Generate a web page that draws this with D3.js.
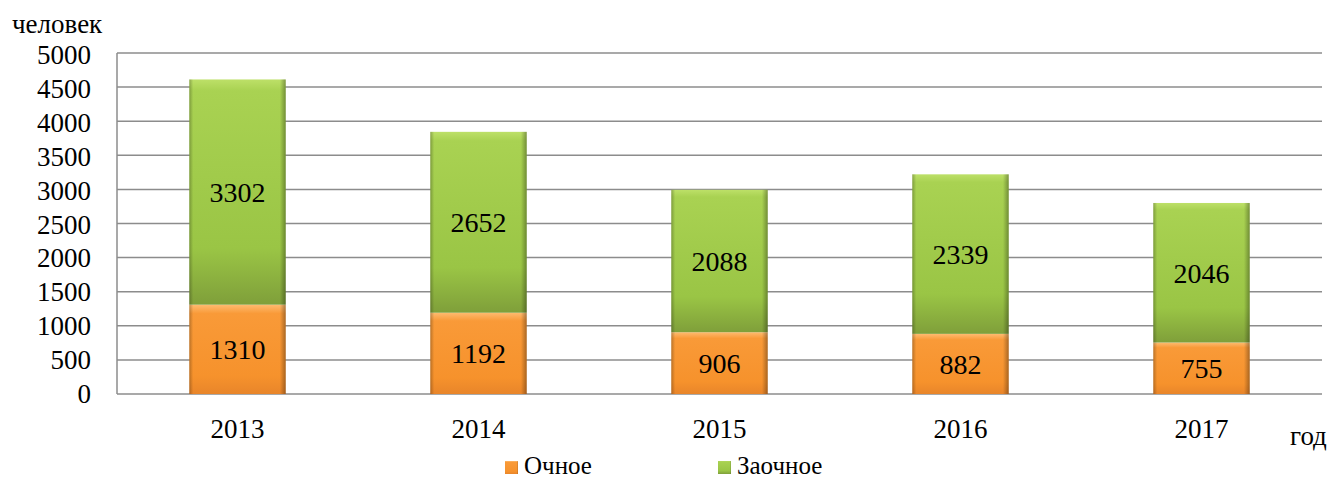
<!DOCTYPE html>
<html>
<head>
<meta charset="utf-8">
<script src="https://cdn.jsdelivr.net/npm/d3@7"></script>
<style>
  body { margin: 0; background: #fff; }
</style>
</head>
<body>
<div id="chart"></div>
<script>
const years = ["2013", "2014", "2015", "2016", "2017"]
const fullTime = [1310, 1192, 906, 882, 755]
const partTime = [3302, 2652, 2088, 2339, 2046]
const yTicks = [0, 500, 1000, 1500, 2000, 2500, 3000, 3500, 4000, 4500, 5000]
const seriesNames = ["Очное", "Заочное"]

const FONT = "'Liberation Serif', 'Times New Roman', Tinos, serif"
const canvas = { width: 1334, height: 481, margin: { top: 53, right: 12, bottom: 87, left: 117 } }

const svg = d3.select("#chart").append("svg")
  .attr("width", canvas.width).attr("height", canvas.height)
  .attr("font-family", FONT)

const x = d3.scaleBand().domain(years)
  .range([canvas.margin.left, canvas.width - canvas.margin.right])
  .paddingInner(0.6).paddingOuter(0.3)

const y = d3.scaleLinear().domain([0, 5000])
  .range([canvas.height - canvas.margin.bottom, canvas.margin.top])

// gradients
const defs = svg.append("defs")
function vGrad(id, stops) {
  const g = defs.append("linearGradient").attr("id", id)
    .attr("x1", 0).attr("y1", 0).attr("x2", 0).attr("y2", 1)
  stops.forEach(s => g.append("stop").attr("offset", s[0]).attr("stop-color", s[1]))
}
vGrad("gOrange", [[0, "#fdbb70"], [0.1, "#f99a38"], [0.8, "#f6922c"], [1, "#e8852a"]])
vGrad("gGreen", [[0, "#bde068"], [0.05, "#a9d252"], [0.75, "#9ac545"], [1, "#7f9f3a"]])
const edge = defs.append("linearGradient").attr("id", "gEdge")
  .attr("x1", 0).attr("y1", 0).attr("x2", 1).attr("y2", 0)
edge.append("stop").attr("offset", 0).attr("stop-color", "#000").attr("stop-opacity", 0.25)
edge.append("stop").attr("offset", 0.04).attr("stop-color", "#000").attr("stop-opacity", 0)
edge.append("stop").attr("offset", 0.94).attr("stop-color", "#000").attr("stop-opacity", 0)
edge.append("stop").attr("offset", 1).attr("stop-color", "#000").attr("stop-opacity", 0.32)

// gridlines
svg.append("g").selectAll("line").data(yTicks).join("line")
  .attr("x1", canvas.margin.left).attr("x2", canvas.width - canvas.margin.right)
  .attr("y1", d => y(d)).attr("y2", d => y(d))
  .attr("stroke", "#8c8c8c").attr("stroke-width", 1.5)

// y axis line
svg.append("line")
  .attr("x1", canvas.margin.left).attr("x2", canvas.margin.left)
  .attr("y1", y(0)).attr("y2", y(5000))
  .attr("stroke", "#8c8c8c").attr("stroke-width", 1.5)

// y tick labels
svg.append("g").selectAll("text").data(yTicks).join("text")
  .attr("x", 91).attr("y", d => y(d) + 9 + d / 5000 * 2)
  .attr("text-anchor", "end").attr("font-size", "27px")
  .text(d => d)

// stacked bars
const rows = years.map((yr, i) => ({ year: yr, a: fullTime[i], b: partTime[i] }))
const stack = d3.stack().keys(["a", "b"])(rows)
const fills = ["url(#gOrange)", "url(#gGreen)"]

stack.forEach((layer, li) => {
  const g = svg.append("g")
  g.selectAll("rect.seg").data(layer).join("rect").attr("class", "seg")
    .attr("x", d => x(d.data.year)).attr("width", x.bandwidth())
    .attr("y", d => y(d[1])).attr("height", d => y(d[0]) - y(d[1]))
    .attr("fill", fills[li])
  g.selectAll("rect.edge").data(layer).join("rect").attr("class", "edge")
    .attr("x", d => x(d.data.year)).attr("width", x.bandwidth())
    .attr("y", d => y(d[1])).attr("height", d => y(d[0]) - y(d[1]))
    .attr("fill", "url(#gEdge)")
  g.selectAll("text").data(layer).join("text")
    .attr("x", d => x(d.data.year) + x.bandwidth() / 2)
    .attr("y", d => (y(d[0]) + y(d[1])) / 2 + 10)
    .attr("text-anchor", "middle").attr("font-size", "28px")
    .text(d => d[1] - d[0])
})

// x labels
svg.append("g").selectAll("text").data(years).join("text")
  .attr("x", d => x(d) + x.bandwidth() / 2).attr("y", 438)
  .attr("text-anchor", "middle").attr("font-size", "27px")
  .text(d => d)

svg.append("text").attr("x", 12).attr("y", 33).attr("font-size", "27px").text("человек")
svg.append("text").attr("x", 1290).attr("y", 445).attr("font-size", "27px").text("год")

// legend
const legend = [
  { name: seriesNames[0], fill: "url(#gOrange)", x: 505 },
  { name: seriesNames[1], fill: "url(#gGreen)", x: 718 }
]
const lg = svg.append("g").selectAll("g").data(legend).join("g")
  .attr("transform", d => `translate(${d.x},461)`)
lg.append("rect").attr("width", 13).attr("height", 13).attr("fill", d => d.fill)
lg.append("rect").attr("width", 13).attr("height", 13).attr("fill", "url(#gEdge)")
lg.append("text").attr("x", 19).attr("y", 13).attr("font-size", "25px").text(d => d.name)
</script>
</body>
</html>
